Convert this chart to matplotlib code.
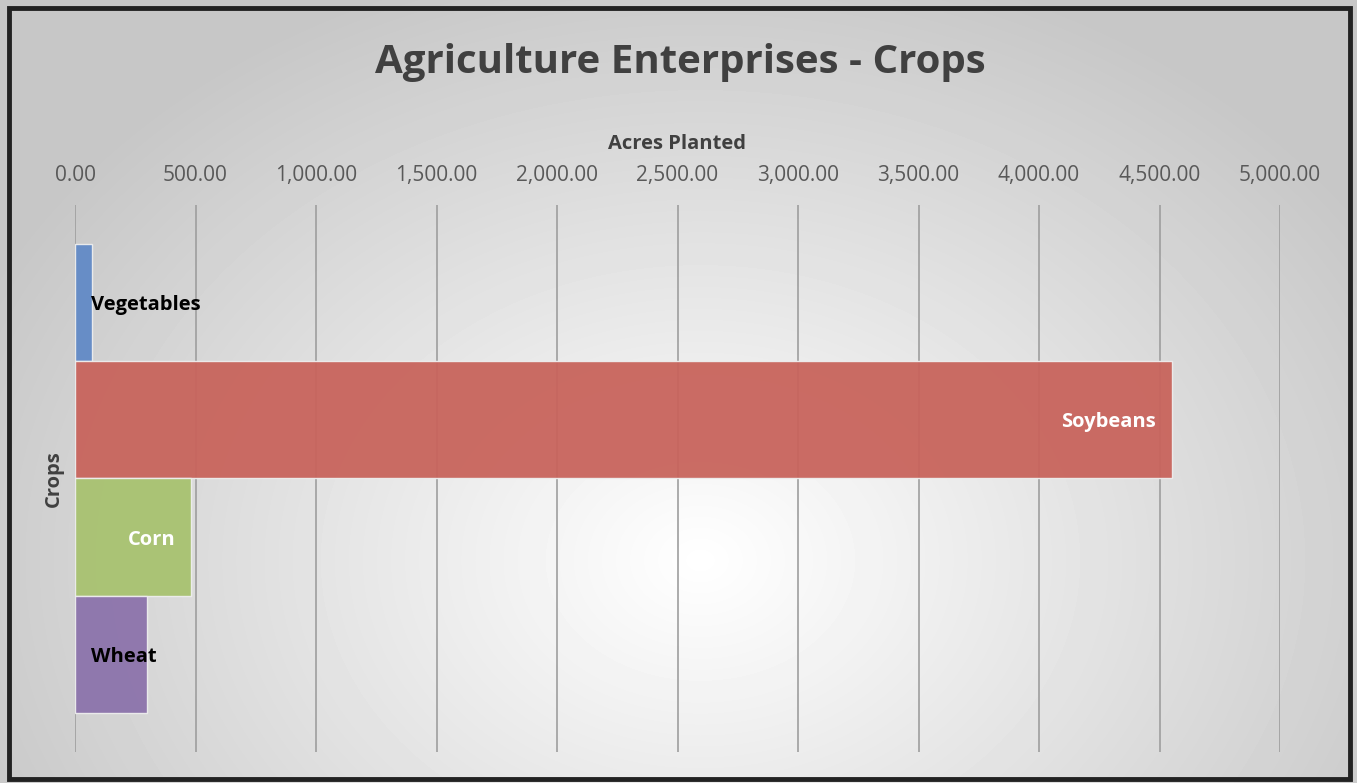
import numpy as np
import matplotlib.pyplot as plt
from matplotlib.patches import Rectangle
from matplotlib.ticker import FuncFormatter

# data
crops = ["Vegetables", "Soybeans", "Corn", "Wheat"]
acres = [70, 4550, 481, 299]
colors = ["#628ac6", "#c8645c", "#a8c270", "#8c73ab"]
label_colors = ["black", "white", "white", "black"]
ticks = [0, 500, 1000, 1500, 2000, 2500, 3000, 3500, 4000, 4500, 5000]

plt.rcParams['font.family'] = ['Open Sans', 'DejaVu Sans']

fig = plt.figure(figsize=(13.57, 7.83), dpi=100)
fig.patch.set_facecolor("#dcd9d4")

# radial gradient background
bg = fig.add_axes([0, 0, 1, 1], zorder=-10)
yy, xx = np.mgrid[0:783, 0:1357]
r = np.sqrt(((xx - 700) / 900.0) ** 2 + ((yy - 560) / 700.0) ** 2)
shade = np.clip(1.0 - 0.25 * r, 0.78, 1.0)
bg.imshow(shade, cmap="gray", vmin=0, vmax=1, aspect="auto",
          extent=[0, 1357, 783, 0])
bg.add_patch(Rectangle((9, 8), 1341, 771, fill=False, ec="#222222", lw=3.5))
bg.set_xlim(0, 1357)
bg.set_ylim(783, 0)
bg.axis("off")

ax = fig.add_axes([75 / 1357, 1 - 752 / 783, 1205 / 1357, 547 / 783])
ax.patch.set_alpha(0)

y = np.arange(len(crops))
ax.barh(y, acres, height=1.0, color=colors, edgecolor="#eeeeee",
        linewidth=1.0, alpha=0.95, zorder=3)

for i, (v, name) in enumerate(zip(acres, crops)):
    if v < 400:
        ax.text(65, i, name, ha="left", va="center_baseline", fontsize=14.5,
                fontweight="bold", color=label_colors[i], zorder=4)
    else:
        ax.text(v - 65, i, name, ha="right", va="center_baseline", fontsize=14.5,
                fontweight="bold", color=label_colors[i], zorder=4)

ax.set_xlim(0, 5000)
ax.set_ylim(3.5 + 0.33, -0.5 - 0.33)
ax.set_xticks(ticks)
ax.xaxis.set_major_formatter(FuncFormatter(lambda v, p: f"{v:,.2f}"))
ax.xaxis.tick_top()
ax.tick_params(axis="x", length=0, pad=13.5, labelsize=15, labelcolor="#595959")
ax.set_yticks([])
ax.grid(axis="x", color="#9e9e9e", lw=1.2, zorder=1)
for s in ax.spines.values():
    s.set_visible(False)

ax.xaxis.set_label_position("top")
ax.set_xlabel("Acres Planted", fontsize=14.5, fontweight="bold",
              color="#404040", labelpad=12)
ax.set_ylabel("Crops", fontsize=14.5, fontweight="bold", color="#404040",
              labelpad=8)

fig.text(680 / 1357, 1 - 62 / 783, "Agriculture Enterprises - Crops",
         ha="center", va="center", fontsize=29, fontweight="bold",
         color="#404040")

fig.savefig("out.png", dpi=100)
